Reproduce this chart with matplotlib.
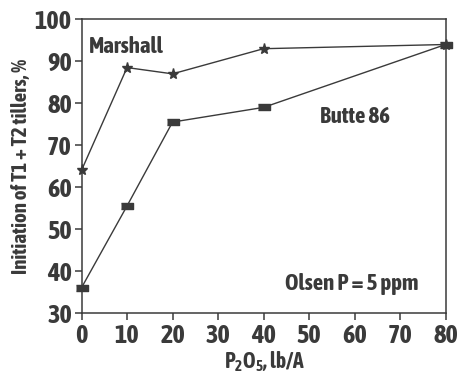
import matplotlib
matplotlib.use('Agg')
import matplotlib.pyplot as plt
from matplotlib import font_manager

# data
p2o5 = [0, 10, 20, 40, 80]
marshall = [64, 88.5, 87, 93, 94]
butte86 = [36, 55.5, 75.5, 79, 94]

x_ticks = [0, 10, 20, 30, 40, 50, 60, 70, 80]
y_ticks = [30, 40, 50, 60, 70, 80, 90, 100]


def weight_num(w):
    if isinstance(w, int):
        return w
    return font_manager.weight_dict.get(w, 400)


# look for a bold condensed face; fall back to Liberation Sans
fonts = font_manager.fontManager.ttflist
narrow_bold = sorted({f.name for f in fonts
                      if ('Narrow' in f.name or 'Condensed' in f.name)
                      and weight_num(f.weight) >= 600})
narrow_any = sorted({f.name for f in fonts
                     if 'Narrow' in f.name or 'Condensed' in f.name})
family = narrow_bold[:1] or narrow_any[:1] or ['Liberation Sans']
plt.rcParams['font.family'] = family + ['DejaVu Sans']
plt.rcParams['font.weight'] = 'bold'
plt.rcParams['mathtext.default'] = 'regular'

ink = '#3a3a3a'
rect = [(-1.0, -0.5), (1.0, -0.5), (1.0, 0.5), (-1.0, 0.5)]

fig = plt.figure(figsize=(4.58, 3.72), dpi=100)
ax = fig.add_axes([0.178, 0.159, 0.795, 0.789])

ax.plot(p2o5, marshall, color=ink, lw=1.0, marker='*', markersize=8,
        markerfacecolor=ink, markeredgecolor=ink, clip_on=False, zorder=3)
ax.plot(p2o5, butte86, color=ink, lw=1.0, marker=rect, markersize=9,
        markerfacecolor=ink, markeredgecolor=ink, clip_on=False, zorder=3)

ax.set_xlim(0, 80)
ax.set_ylim(30, 100)
ax.set_xticks(x_ticks)
ax.set_yticks(y_ticks)
ax.tick_params(direction='out', length=5, width=1.1, color=ink, labelsize=19,
               labelcolor=ink, pad=2)
for s in ax.spines.values():
    s.set_color(ink)
    s.set_linewidth(1.1)

# x label placed by hand so it sits at the very bottom like the original
fig.text(0.577, -0.006, 'P$_2$O$_5$, lb/A', fontsize=15.5, fontweight='bold',
         color=ink, ha='center', va='bottom')
ax.set_ylabel('Initiation of T1 + T2 tillers, %', fontsize=15, fontweight='bold',
              color=ink, labelpad=3)

ax.text(1.6, 93.4, 'Marshall', fontsize=16.5, color=ink, va='center', ha='left')
ax.text(52.4, 76.7, 'Butte 86', fontsize=16.5, color=ink, va='center', ha='left')
ax.text(44.7, 37.0, 'Olsen P = 5 ppm', fontsize=16.5, color=ink, va='center', ha='left')

fig.savefig('out.png', dpi=100)
